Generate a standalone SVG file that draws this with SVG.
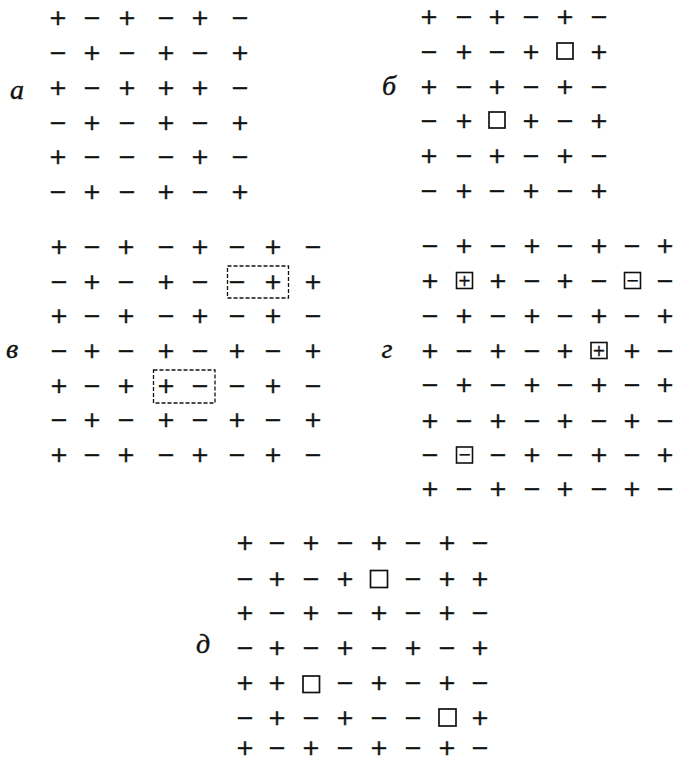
<svg xmlns="http://www.w3.org/2000/svg" width="675" height="761" viewBox="0 0 675 761">
<style>
.s{font-family:"DejaVu Sans",sans-serif;font-size:22px;text-anchor:middle;fill:#111;stroke:#111;stroke-width:0.45}
.b{font-family:"DejaVu Sans",sans-serif;font-size:16px;text-anchor:middle;fill:#111;stroke:#111;stroke-width:0.3}
.lbl{font-family:"Liberation Serif",serif;font-style:italic;font-size:28px;text-anchor:middle;fill:#111;stroke:#111;stroke-width:0.4}
.sq{fill:none;stroke:#111;stroke-width:1.7}
.bx{fill:none;stroke:#111;stroke-width:1.6}
.dash{fill:none;stroke:#111;stroke-width:1.3;stroke-dasharray:4 2}
</style>
<rect width="675" height="761" fill="#fff"/>

<g id="panel-a">
<text class="lbl" x="17" y="99">а</text>
<text class="s" x="58 92 127 166 200 240" y="25">+−+−+−</text>
<text class="s" x="58 92 127 166 200 240" y="60">−+−+−+</text>
<text class="s" x="58 92 127 166 200 240" y="95">+−+++−</text>
<text class="s" x="58 92 127 166 200 240" y="130">−+−+−+</text>
<text class="s" x="58 92 127 166 200 240" y="164">+−−−+−</text>
<text class="s" x="58 92 127 166 200 240" y="199">−+−+−+</text>
</g>

<g id="panel-b">
<text class="lbl" x="389" y="95">б</text>
<text class="s" x="429 464 497 531 565 599" y="24">+−+−+−</text>
<text class="s" x="429 464 497 531 599" y="59">−+−++</text>
<rect class="sq" x="557" y="43" width="16" height="16"/>
<text class="s" x="429 464 497 531 565 599" y="94">+−+−+−</text>
<text class="s" x="429 464 531 565 599" y="128">−++−+</text>
<rect class="sq" x="489" y="112" width="16" height="16"/>
<text class="s" x="429 464 497 531 565 599" y="163">+−+−+−</text>
<text class="s" x="429 464 497 531 565 599" y="198">−+−+−+</text>
</g>

<g id="panel-v">
<text class="lbl" x="12" y="358">в</text>
<text class="s" x="59 92 126 166 200 237 273 313" y="254">+−+−+−+−</text>
<text class="s" x="59 92 126 166 200 237 273 313" y="289">−+−+−−++</text>
<text class="s" x="59 92 126 166 200 237 273 313" y="323">+−+−+−+−</text>
<text class="s" x="59 92 126 166 200 237 273 313" y="358">−+−+−+−+</text>
<text class="s" x="59 92 126 166 200 237 273 313" y="393">+−++−−+−</text>
<text class="s" x="59 92 126 166 200 237 273 313" y="427">−+−+−+−+</text>
<text class="s" x="59 92 126 166 200 237 273 313" y="462">+−+−+−+−</text>
<rect class="dash" x="227.5" y="266" width="61" height="32"/>
<rect class="dash" x="153.5" y="370" width="61.5" height="33"/>
</g>

<g id="panel-g">
<text class="lbl" x="387" y="358">г</text>
<text class="s" x="430 464 498 532 565 599 632 665" y="253">−+−+−+−+</text>
<text class="s" x="430" y="288">+</text>
<text class="s" x="498 532 565 599" y="288">+−+−</text>
<text class="s" x="665" y="288">−</text>
<text class="s" x="430 464 498 532 565 599 632 665" y="323">−+−+−+−+</text>
<text class="s" x="430 464 498 532 565" y="358">+−+−+</text>
<text class="s" x="632 665" y="358">+−</text>
<text class="s" x="430 464 498 532 565 599 632 665" y="392">−+−+−+−+</text>
<text class="s" x="430 464 498 532 565 599 632 665" y="428">+−+−+−+−</text>
<text class="s" x="430" y="462">−</text>
<text class="s" x="498 532 565 599 632 665" y="462">−+−+−+</text>
<text class="s" x="430 464 498 532 565 599 632 665" y="496">+−+−+−+−</text>
<g id="boxed-1"><rect class="bx" x="456.5" y="272.5" width="16" height="16"/><text class="b" x="464.5" y="285.5">+</text></g>
<g id="boxed-2"><rect class="bx" x="624.5" y="272.5" width="16" height="16"/><text class="b" x="632.5" y="285.5">−</text></g>
<g id="boxed-3"><rect class="bx" x="591" y="342.5" width="16" height="16"/><text class="b" x="599" y="355.5">+</text></g>
<g id="boxed-4"><rect class="bx" x="456.5" y="447" width="16" height="16"/><text class="b" x="464.5" y="460">−</text></g>
</g>

<g id="panel-d">
<text class="lbl" x="203" y="653">д</text>
<text class="s" x="245 277 311 345 379 413 447 480" y="550">+−+−+−+−</text>
<text class="s" x="245 277 311 345 413 447 480" y="586">−+−+−++</text>
<rect class="sq" x="370.5" y="570.5" width="17" height="17"/>
<text class="s" x="245 277 311 345 379 413 447 480" y="620">+−+−+−+−</text>
<text class="s" x="245 277 311 345 379 413 447 480" y="655">−+−+−+−+</text>
<text class="s" x="245 277 345 379 413 447 480" y="690">++−+−+−</text>
<rect class="sq" x="303" y="676" width="16.5" height="16.5"/>
<text class="s" x="245 277 311 345 379 413 480" y="725">−+−+−−+</text>
<rect class="sq" x="439" y="709" width="17" height="17"/>
<text class="s" x="245 277 311 345 379 413 447 480" y="755">+−+−+−+−</text>
</g>
</svg>
